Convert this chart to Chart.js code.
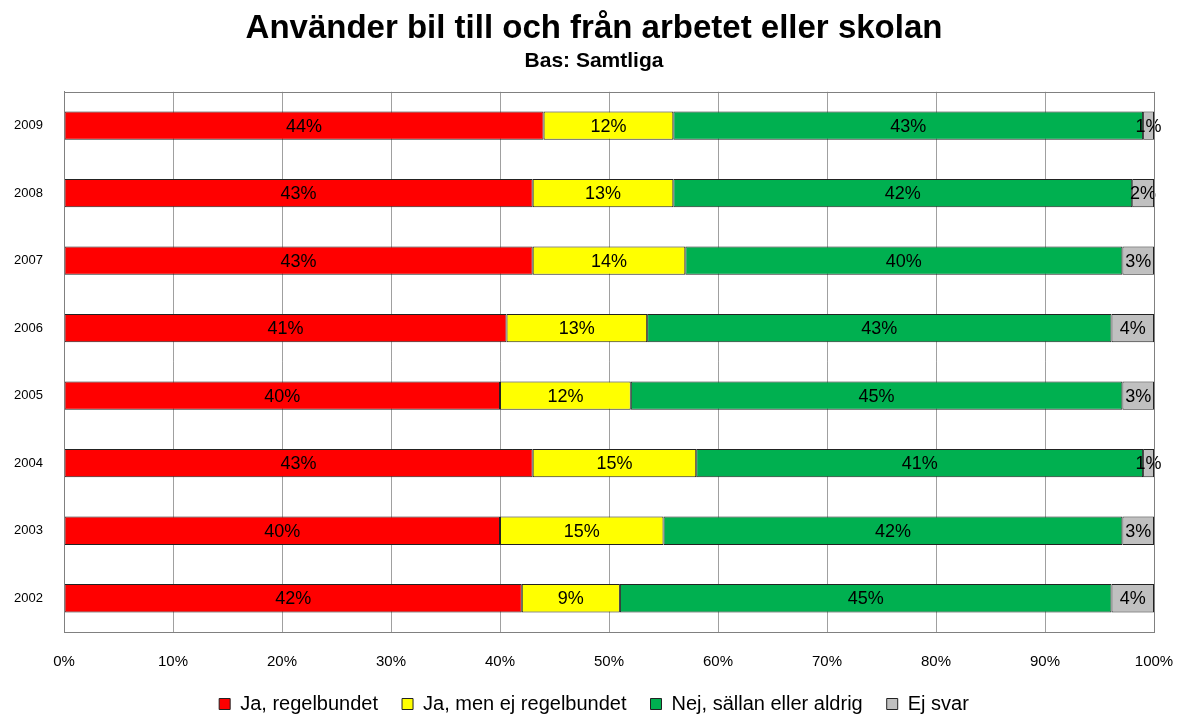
<!DOCTYPE html>
<html>
<head>
<meta charset="utf-8">
<script src="https://cdn.jsdelivr.net/npm/chart.js@4/dist/chart.umd.min.js"></script>
<style>
html,body{margin:0;padding:0;background:#fff;}
#wrap{width:1180px;height:715px;}
</style>
</head>
<body>
<div id="wrap"><canvas id="c" width="1180" height="715"></canvas></div>
<script>
// år, uppifrån och ned
const years=['2009','2008','2007','2006','2005','2004','2003','2002'];
const jaRegel=[44,43,43,40.6,40,43,40,42];
const jaEjRegel=[11.9,12.9,14,12.9,12,15,15,9];
const nej=[43.1,42.1,40.1,42.6,45.1,41,42.1,45.1];
const ejSvar=[1,2,2.9,3.9,2.9,1,2.9,3.9];
const seriesNames=['Ja, regelbundet','Ja, men ej regelbundet','Nej, sällan eller aldrig','Ej svar'];
const colors=['#ff0000','#ffff00','#00b050','#c0c0c0'];
const xTicks=[0,10,20,30,40,50,60,70,80,90,100];

const FONT='"Liberation Sans", Arial, sans-serif';

const labelPlugin={
 id:'barLabels',
 afterDatasetsDraw(chart){
  const ctx=chart.ctx;
  ctx.save();
  ctx.font='18px '+FONT;
  ctx.fillStyle='#000';
  ctx.textAlign='center';
  ctx.textBaseline='middle';
  chart.data.datasets.forEach((ds,i)=>{
   chart.getDatasetMeta(i).data.forEach((bar,j)=>{
    const p=bar.getProps(['x','y','base'],true);
    ctx.fillText(Math.round(ds.data[j])+'%',(p.x+p.base)/2,p.y+1);
   });
  });
  ctx.restore();
 }
};

const framePlugin={
 id:'frame',
 afterDraw(chart){
  const a=chart.chartArea,ctx=chart.ctx;
  ctx.save();
  ctx.strokeStyle='#808080';
  ctx.lineWidth=1;
  ctx.strokeRect(Math.round(a.left)+0.5,Math.round(a.top)+0.5,Math.round(a.right-a.left),Math.round(a.bottom-a.top));
  ctx.restore();
 }
};

new Chart(document.getElementById('c'),{
 type:'bar',
 data:{
  labels:years,
  datasets:[jaRegel,jaEjRegel,nej,ejSvar].map((d,i)=>({
   label:seriesNames[i],
   data:d,
   backgroundColor:colors[i],
   borderColor:'#222',
   borderWidth:1,
   borderSkipped:false,
   categoryPercentage:1,
   barPercentage:0.42
  }))
 },
 options:{
  indexAxis:'y',
  responsive:false,
  devicePixelRatio:1,
  animation:false,
  layout:{padding:{left:14,right:6,top:0,bottom:0}},
  scales:{
   x:{
    stacked:true,min:0,max:100,
    afterBuildTicks(s){s.ticks=xTicks.map(v=>({value:v}));},
    ticks:{callback:v=>v+'%',color:'#000',font:{family:FONT,size:15},padding:21,maxRotation:0},
    grid:{color:'#a0a0a0',drawTicks:false},
    border:{color:'#808080'},
    afterFit(s){s.height=38;s.paddingLeft=0;s.paddingRight=26;}
   },
   y:{
    stacked:true,
    ticks:{color:'#000',font:{family:FONT,size:13},padding:21},
    grid:{display:false,drawTicks:false},
    border:{color:'#808080'},
    afterFit(s){s.width=50;}
   }
  },
  plugins:{
   title:{display:true,text:'Använder bil till och från arbetet eller skolan',color:'#000',
    font:{family:FONT,size:33,weight:'bold'},padding:{top:9,bottom:0}},
   subtitle:{display:true,text:'Bas: Samtliga',color:'#000',
    font:{family:FONT,size:21,weight:'bold'},padding:{top:0,bottom:18}},
   legend:{position:'bottom',maxHeight:45,
    labels:{color:'#000',font:{family:FONT,size:20},boxWidth:11,boxHeight:11,padding:24,
     generateLabels(chart){
      return chart.data.datasets.map((ds,i)=>({text:ds.label,fillStyle:ds.backgroundColor,strokeStyle:'#222',lineWidth:1,datasetIndex:i,fontColor:'#000'}));
     }}},
   tooltip:{enabled:false}
  }
 },
 plugins:[labelPlugin,framePlugin]
});
</script>
</body>
</html>
